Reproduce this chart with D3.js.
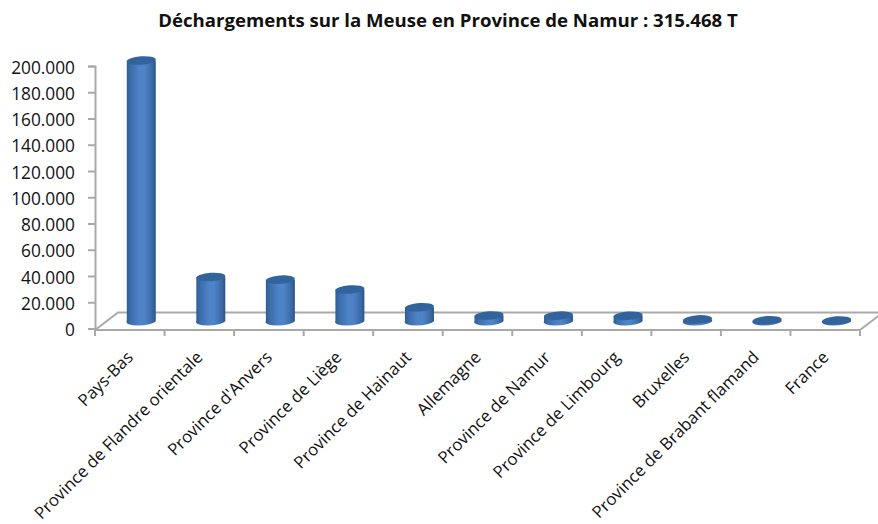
<!DOCTYPE html>
<html><head><meta charset="utf-8">
<script src="https://cdn.jsdelivr.net/npm/d3@7/dist/d3.min.js"></script>
<style>html,body{margin:0;padding:0;background:#fff}svg{display:block}text{font-family:"Open Sans","Noto Sans",sans-serif;fill:#111}</style>
</head><body><svg id="c" width="878" height="524"></svg>
<script>
const titleText = "Déchargements sur la Meuse en Province de Namur : 315.468 T";
const categories = ["Pays-Bas","Province de Flandre orientale","Province d'Anvers","Province de Liège","Province de Hainaut","Allemagne","Province de Namur","Province de Limbourg","Bruxelles","Province de Brabant flamand","France"];
const values = [198500,33500,31500,24000,10500,4200,4100,4000,1200,600,400];
const yTicks = [0,20000,40000,60000,80000,100000,120000,140000,160000,180000,200000];

const svg = d3.select("#c");
const x = d3.scaleBand().domain(categories).range([95,860]);
const y = d3.scaleLinear().domain([0,200000]).range([328.5,66]);
const dx = 23, dy = -17.5, rx = 14.5, ry = 4.2;
const gray = "#a9a9a9";

const defs = svg.append("defs");
const grad = defs.append("linearGradient").attr("id","cyl");
[[0,"#2f5b90"],[0.12,"#3a6ba8"],[0.45,"#4f83c8"],[0.62,"#4f83c8"],[0.88,"#3a6aa5"],[1,"#2c5585"]]
  .forEach(([o,c])=>grad.append("stop").attr("offset",o).attr("stop-color",c));
defs.append("filter").attr("id","soft").append("feGaussianBlur").attr("stdDeviation",0.35);

const floorY = y(0)+1.5;
const floor = svg.append("g").attr("fill","none").attr("stroke",gray).attr("stroke-width",2);
floor.append("path").attr("d",`M${x.range()[0]},${floorY}L${x.range()[0]+dx},${floorY+dy}L878,${floorY+dy}`);
floor.append("path").attr("d",`M${x.range()[1]},${floorY}L${x.range()[1]+dx},${floorY+dy}`);
floor.append("path").attr("d",`M${x.range()[0]},${floorY}H${x.range()[1]}`);
x.domain().concat([null]).forEach((c,i)=>{
  const px = x.range()[0]+i*x.step();
  floor.append("line").attr("x1",px).attr("x2",px).attr("y1",floorY).attr("y2",floorY+6);
});

const yAxis = svg.append("g").attr("transform","translate(95,0)")
  .call(d3.axisLeft(y).tickValues(yTicks).tickSize(7).tickPadding(13)
    .tickFormat(d=>d3.format(",")(d).replace(/,/g,".")));
yAxis.selectAll("path,line").attr("stroke",gray).attr("stroke-width",2);
yAxis.selectAll("text").attr("font-size",17.3).attr("dy","0.35em").attr("transform","translate(0,1)");

const bars = svg.append("g").attr("filter","url(#soft)").selectAll("g").data(categories).join("g")
  .attr("transform",c=>`translate(${x(c)+x.bandwidth()/2+11.5},${y(0)-7.5})`);
bars.append("path").attr("fill","url(#cyl)").attr("d",(c,i)=>{
  const h = y(0)-y(values[i]);
  return `M${-rx},${-h}L${-rx},0A${rx},${ry} -4 0 0 ${rx},0L${rx},${-h}Z`;
});
bars.append("ellipse").attr("cy",(c,i)=>-(y(0)-y(values[i]))).attr("rx",rx).attr("ry",ry)
  .attr("fill","#30639c").attr("transform",(c,i)=>`rotate(-4 0 ${-(y(0)-y(values[i]))})`);

svg.append("g").selectAll("text").data(categories).join("text")
  .attr("font-size",16.8).attr("text-anchor","end")
  .attr("transform",c=>`translate(${x(c)+x.bandwidth()/2-4},350) rotate(-45)`)
  .attr("dy","0.7em").text(c=>c);

svg.append("text").attr("x",448).attr("y",27).attr("text-anchor","middle")
  .attr("font-size",18.6).attr("font-weight",700).text(titleText);
</script></body></html>
